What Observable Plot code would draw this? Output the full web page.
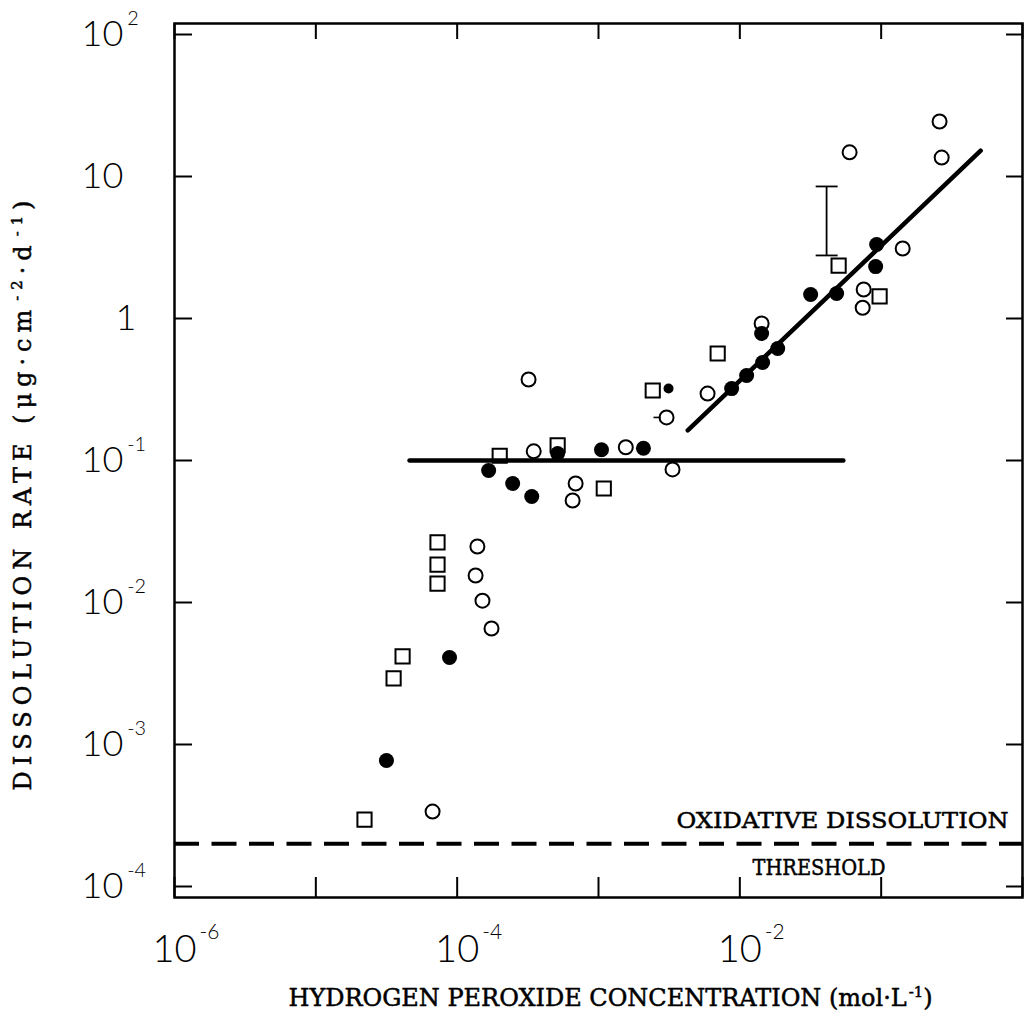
<!DOCTYPE html>
<html>
<head>
<meta charset="utf-8">
<script src="https://cdn.jsdelivr.net/npm/d3@7"></script>
<script src="https://cdn.jsdelivr.net/npm/@observablehq/plot@0.6"></script>
<style>
  html, body { margin: 0; padding: 0; background: #fff; }
  #chart svg { display: block; }
</style>
</head>
<body>
<div id="chart"></div>
<script>
// ---------------- data ----------------
const squareX = [7.26e-5, 7.26e-5, 7.26e-5, 4.11e-5, 3.55e-5, 2.21e-5, 2.0e-4, 5.14e-4, 1.09e-3, 2.42e-3, 6.97e-3, 0.050, 0.0975];
const squareY = [0.0265, 0.0185, 0.0136, 4.17e-3, 2.92e-3, 2.96e-4, 0.108, 0.128, 0.0635, 0.311, 0.567, 2.36, 1.43];

const openX = [1.39e-4, 1.35e-4, 1.51e-4, 1.75e-4, 6.70e-5, 3.20e-4, 3.48e-4, 6.89e-4, 6.56e-4, 1.56e-3, 3.34e-3, 3.03e-3, 5.91e-3, 0.01426, 0.0598, 0.259, 0.268, 0.142, 0.0752, 0.0740];
const openY = [0.0248, 0.0155, 0.0103, 6.56e-3, 3.37e-4, 0.372, 0.116, 0.0689, 0.0523, 0.124, 0.0865, 0.201, 0.296, 0.922, 14.8, 24.4, 13.6, 3.11, 1.60, 1.19];

const filledX = [3.16e-5, 8.83e-5, 1.67e-4, 2.47e-4, 3.37e-4, 5.14e-4, 1.05e-3, 2.08e-3, 8.75e-3, 0.01117, 0.01449, 0.01426, 0.01854, 0.0317, 0.0484, 0.0929, 0.0914];
const filledY = [7.71e-4, 4.10e-3, 0.0851, 0.0689, 0.0558, 0.112, 0.119, 0.122, 0.321, 0.397, 0.490, 0.784, 0.615, 1.476, 1.50, 3.32, 2.32];

const smallFilledX = [3.13e-3];
const smallFilledY = [0.321];

// fitted lines
const plateauX = [4.6e-5, 0.054];
const plateauY = [0.1, 0.1];
const slopeX = [4.28e-3, 0.506];
const slopeY = [0.163, 15.2];

// error bar
const errX = [0.0411];
const errLow = [2.78];
const errHigh = [8.51];
const errCapX1 = [0.0344];
const errCapX2 = [0.0492];

// short bar on one open circle
const barX1 = [2.45e-3];
const barX2 = [2.75e-3];
const barY = [0.201];

// oxidative dissolution threshold
const thresholdY = [2.0e-4];
const thresholdLabelTop = ["OXIDATIVE DISSOLUTION"];
const thresholdLabelBottom = ["THRESHOLD"];

// axes
const xDecades = [1e-6, 1e-5, 1e-4, 1e-3, 1e-2, 1e-1, 1];
const xLabelTicks = [1e-6, 1e-4, 1e-2];
const xTickLabels = ["10^{-6}", "10^{-4}", "10^{-2}"];
const yDecades = [1e-4, 1e-3, 1e-2, 1e-1, 1, 10, 100];
const yTickLabels = ["10^{-4}", "10^{-3}", "10^{-2}", "10^{-1}", "1", "10", "10^{2}"];
const xTitle = ["HYDROGEN PEROXIDE CONCENTRATION (mol\u00B7L^{-1})"];
const yTitle = ["DISSOLUTION RATE (\u03BCg\u00B7cm^{-2}\u00B7d^{-1})"];

// ---------------- chart ----------------
const rows = (xs, ys) => xs.map((x, i) => ({x, y: ys[i]}));
const TITLE_FONT = "DejaVu Serif";
const NUM_FONT = "Lato";
const titleStyle = {fontFamily: TITLE_FONT, fontSize: 24, stroke: "black", strokeWidth: 0.5, fill: "black"};
const noteStyle = {fontFamily: TITLE_FONT, fontSize: 23, stroke: "black", strokeWidth: 0.5, fill: "black"};

const plot = Plot.plot({
  width: 1024,
  height: 1017,
  marginLeft: 174,
  marginRight: 2,
  marginTop: 23,
  marginBottom: 120,
  style: {background: "white", color: "black", overflow: "visible"},
  x: {type: "log", domain: [1e-6, 1]},
  y: {type: "log", domain: [Math.pow(10, -4.0775), Math.pow(10, 2.0775)]},
  marks: [
    // inward tick marks on all four sides
    Plot.tickX(xDecades, {x: d => d, insetTop: 854, stroke: "black", strokeWidth: 2}),
    Plot.tickX(xDecades, {x: d => d, insetBottom: 858, stroke: "black", strokeWidth: 2}),
    Plot.tickY(yDecades, {y: d => d, insetRight: 830, stroke: "black", strokeWidth: 2}),
    Plot.tickY(yDecades, {y: d => d, insetLeft: 832, stroke: "black", strokeWidth: 2}),
    Plot.frame({stroke: "black", strokeWidth: 2.5}),

    // tick labels
    Plot.axisX({
      ticks: xLabelTicks, anchor: "bottom", tickSize: 0, tickPadding: 38, label: null,
      tickFormat: d => xTickLabels[xLabelTicks.indexOf(d)],
      fontSize: 38, fontFamily: NUM_FONT, fontWeight: 300
    }),
    Plot.axisY({
      ticks: yDecades, anchor: "left", tickSize: 0, tickPadding: 93, label: null,
      textAnchor: "start",
      tickFormat: d => yTickLabels[yDecades.indexOf(d)],
      fontSize: 36, fontFamily: NUM_FONT, fontWeight: 300
    }),

    // threshold
    Plot.ruleY(thresholdY, {y: d => d, stroke: "black", strokeWidth: 4, strokeDasharray: "25 12.5"}),
    Plot.text(thresholdY, {y: d => d, text: () => thresholdLabelTop[0], frameAnchor: "right",
      textAnchor: "end", lineAnchor: "bottom", dx: -14, dy: -16, ...noteStyle}),
    Plot.text(thresholdY, {y: d => d, text: () => thresholdLabelBottom[0], frameAnchor: "right",
      textAnchor: "start", lineAnchor: "bottom", dx: -270, dy: 31, ...noteStyle}),

    // fitted lines
    Plot.line(rows(plateauX, plateauY), {x: "x", y: "y", stroke: "black", strokeWidth: 4.5}),
    Plot.line(rows(slopeX, slopeY), {x: "x", y: "y", stroke: "black", strokeWidth: 4.5}),

    // error bar
    Plot.ruleX(errX, {x: d => d, y1: (d, i) => errLow[i], y2: (d, i) => errHigh[i], stroke: "black", strokeWidth: 1.8}),
    Plot.link(errX, {x1: (d, i) => errCapX1[i], x2: (d, i) => errCapX2[i], y1: (d, i) => errLow[i], y2: (d, i) => errLow[i], stroke: "black", strokeWidth: 1.8}),
    Plot.link(errX, {x1: (d, i) => errCapX1[i], x2: (d, i) => errCapX2[i], y1: (d, i) => errHigh[i], y2: (d, i) => errHigh[i], stroke: "black", strokeWidth: 1.8}),
    Plot.link(barY, {x1: (d, i) => barX1[i], x2: (d, i) => barX2[i], y1: d => d, y2: d => d, stroke: "black", strokeWidth: 1.6}),

    // data points
    Plot.dot(rows(squareX, squareY), {x: "x", y: "y", symbol: "square", r: 8, fill: "none", stroke: "black", strokeWidth: 2}),
    Plot.dot(rows(openX, openY), {x: "x", y: "y", symbol: "circle", r: 7, fill: "none", stroke: "black", strokeWidth: 2}),
    Plot.dot(rows(filledX, filledY), {x: "x", y: "y", symbol: "circle", r: 7.5, fill: "black", stroke: "none"}),
    Plot.dot(rows(smallFilledX, smallFilledY), {x: "x", y: "y", symbol: "circle", r: 5, fill: "black", stroke: "none"}),

    // axis titles
    Plot.text(xTitle, {text: d => d, frameAnchor: "bottom-left", textAnchor: "start", lineAnchor: "bottom",
      dx: 114, dy: 108, ...titleStyle}),
    Plot.text(yTitle, {text: d => d, frameAnchor: "left", rotate: -90, textAnchor: "middle", lineAnchor: "bottom",
      dx: -144, dy: 35, ...titleStyle})
  ]
});

document.getElementById("chart").append(plot);

// ---------------- superscripts as tspans ----------------
const NS = "http://www.w3.org/2000/svg";
function supify(t, scale, raise, gap) {
  const s = t.textContent;
  if (!s.includes("^{")) return false;
  const holder = t.closest("[font-size]");
  const fs = parseFloat(holder ? holder.getAttribute("font-size") : 16);
  while (t.firstChild) t.removeChild(t.firstChild);
  const parts = s.split(/\^\{([^}]*)\}/);
  let up = false;
  parts.forEach((p, i) => {
    if (p === "") return;
    const ts = document.createElementNS(NS, "tspan");
    ts.textContent = p;
    if (i % 2 === 1) {
      ts.setAttribute("font-size", (fs * scale).toFixed(2));
      ts.setAttribute("dy", (-raise * fs).toFixed(2));
      if (gap) ts.setAttribute("dx", gap);
      up = true;
    } else if (up) {
      ts.setAttribute("dy", (raise * fs).toFixed(2));
      up = false;
    }
    t.appendChild(ts);
  });
  return true;
}

const svg = plot.tagName.toLowerCase() === "svg" ? plot : plot.querySelector("svg");
svg.querySelectorAll('g[aria-label="x-axis tick label"] text').forEach(t => {
  supify(t, 0.55, 0.62, 3);
  const base = t.firstChild;
  const w = base && base.getComputedTextLength ? base.getComputedTextLength() : 40;
  t.setAttribute("text-anchor", "start");
  t.setAttribute("x", (-w / 2).toFixed(2));
});
svg.querySelectorAll('g[aria-label="y-axis tick label"] text').forEach(t => {
  if (t.textContent === "1") t.setAttribute("x", 34);
  supify(t, 0.55, 0.58, 4);
});
svg.querySelectorAll("text").forEach(t => {
  const s = t.textContent;
  const fit = (len, mode) => {
    t.setAttribute("textLength", len);
    t.setAttribute("lengthAdjust", mode);
  };
  if (s.startsWith("HYDROGEN")) {
    supify(t, 0.62, 0.35, 2);
    fit(644, "spacing");
  } else if (s.startsWith("DISSOLUTION")) {
    supify(t, 0.62, 0.35, 3);
    fit(590, "spacing");
  } else if (s === "OXIDATIVE DISSOLUTION") {
    fit(332, "spacingAndGlyphs");
  } else if (s === "THRESHOLD") {
    fit(133, "spacingAndGlyphs");
  }
});
</script>
</body>
</html>
